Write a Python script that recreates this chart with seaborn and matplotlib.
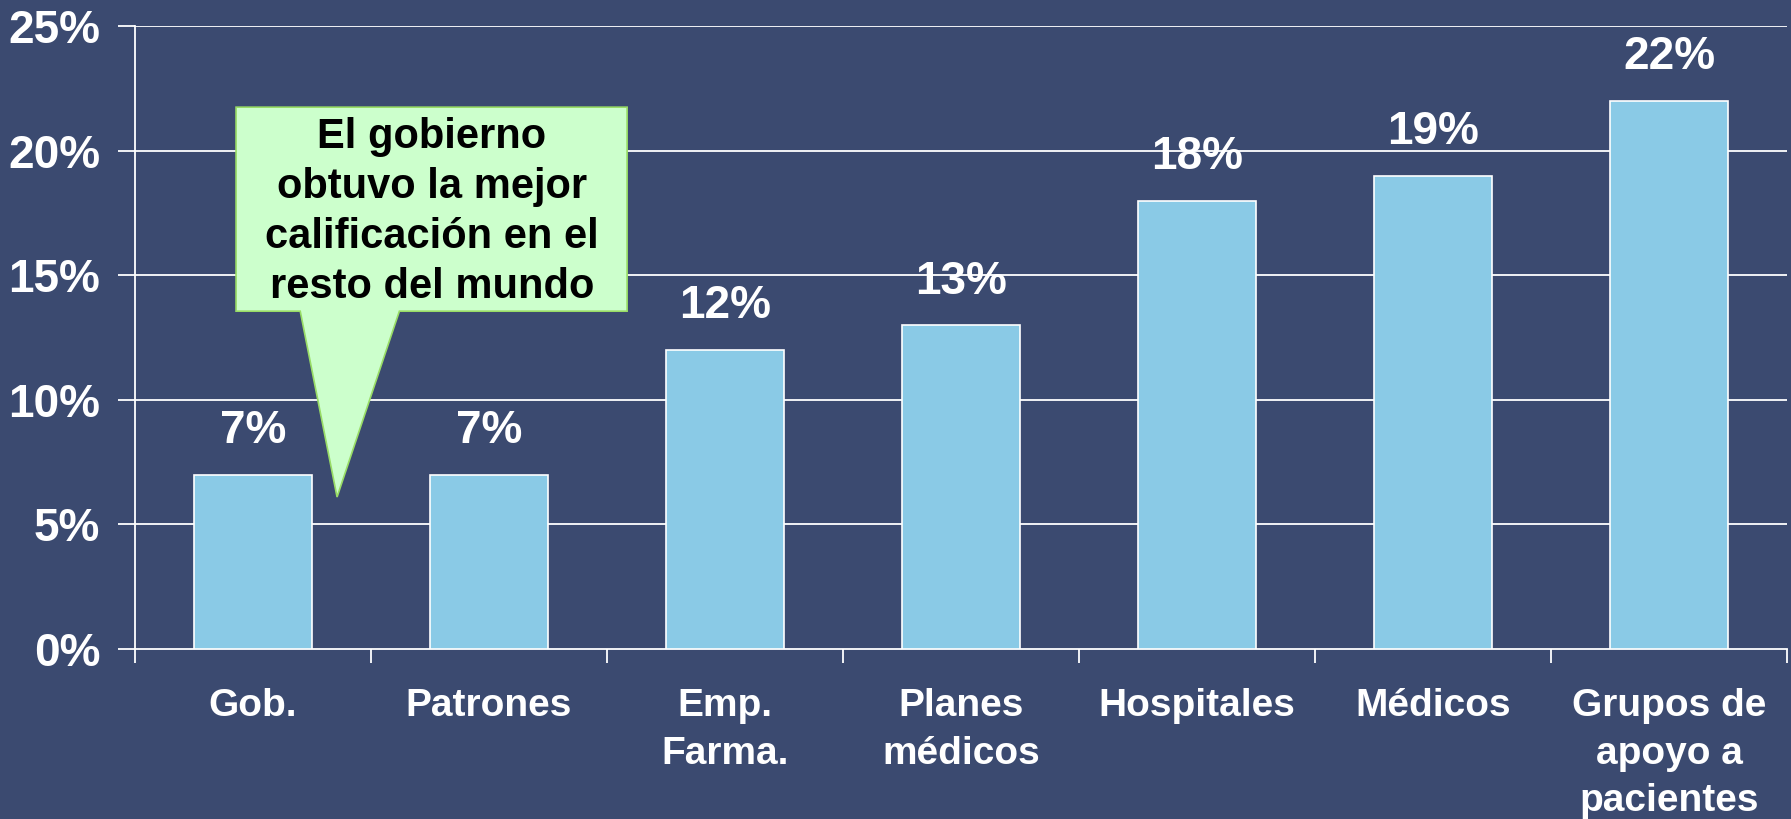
import numpy as np
import pandas as pd
import matplotlib
matplotlib.use("Agg")
import matplotlib.pyplot as plt
import seaborn as sns
from matplotlib.patches import Polygon
from matplotlib.ticker import FixedLocator

categories = ["Gob.", "Patrones", "Emp.\nFarma.", "Planes\nmédicos",
              "Hospitales", "Médicos", "Grupos de\napoyo a\npacientes"]
values = [7, 7, 12, 13, 18, 19, 22]
value_labels = ["7%", "7%", "12%", "13%", "18%", "19%", "22%"]
y_ticks = [0, 5, 10, 15, 20, 25]
y_tick_labels = ["0%", "5%", "10%", "15%", "20%", "25%"]
callout = "El gobierno\nobtuvo la mejor\ncalificación en el\nresto del mundo"

bg = "#3B4A70"
bar_color = "#8ACAE6"

sns.set_theme(style="white")
plt.rcParams["font.family"] = ["Liberation Sans", "DejaVu Sans"]
plt.rcParams["font.weight"] = "bold"

fig = plt.figure(figsize=(17.91, 8.19), dpi=100, facecolor=bg)
ax = fig.add_axes([0.0754, 0.2076, 0.9224, 0.7604])
ax.set_facecolor(bg)

df = pd.DataFrame({"cat": categories, "val": values})
sns.barplot(data=df, x="cat", y="val", color=bar_color, saturation=1,
            width=0.5, edgecolor="white", linewidth=1.2, ax=ax, zorder=3)

ax.set_xlim(-0.5, len(categories) - 0.5)
ax.set_ylim(0, 25)
ax.set_xlabel("")
ax.set_ylabel("")

# gridlines
for t in y_ticks[1:]:
    ax.axhline(t, color="white", lw=1.3, zorder=1)

ax.set_yticks(y_ticks)
ax.set_yticklabels(y_tick_labels)
ax.tick_params(axis="y", colors="white", length=12, width=1.3, pad=13,
               labelsize=33, left=True)

ax.set_xticks(range(len(categories)))
ax.set_xticklabels(categories, linespacing=1.42)
ax.xaxis.set_minor_locator(FixedLocator(np.arange(-0.5, len(categories), 1)))
ax.tick_params(axis="x", which="major", length=0, pad=28, colors="white",
               labelsize=28)
ax.tick_params(axis="x", which="minor", length=10, width=1.3, color="white",
               bottom=True)
for lab in ax.get_xticklabels():
    lab.set_verticalalignment("top")
    lab.set_multialignment("center")

for side in ["top", "right"]:
    ax.spines[side].set_visible(False)
for side in ["left", "bottom"]:
    ax.spines[side].set_color("white")
    ax.spines[side].set_linewidth(1.3)

for i, (v, lab) in enumerate(zip(values, value_labels)):
    ax.text(i, v + 1.75, lab, ha="center", va="center", color="white",
            fontsize=33, fontweight="bold", zorder=4)

# callout box with pointer
box = Polygon([(-0.072, 13.56), (-0.072, 21.75), (1.585, 21.75),
               (1.585, 13.56), (0.62, 13.56), (0.356, 6.1), (0.2, 13.56)],
              closed=True, facecolor="#CCFFCC", edgecolor="#99DD66",
              lw=1.2, zorder=5)
ax.add_patch(box)
ax.text(0.757, 17.55, callout, ha="center", va="center", color="black",
        fontsize=30, fontweight="bold", linespacing=1.32, zorder=6)

fig.savefig("out.png", dpi=100, facecolor=bg)
